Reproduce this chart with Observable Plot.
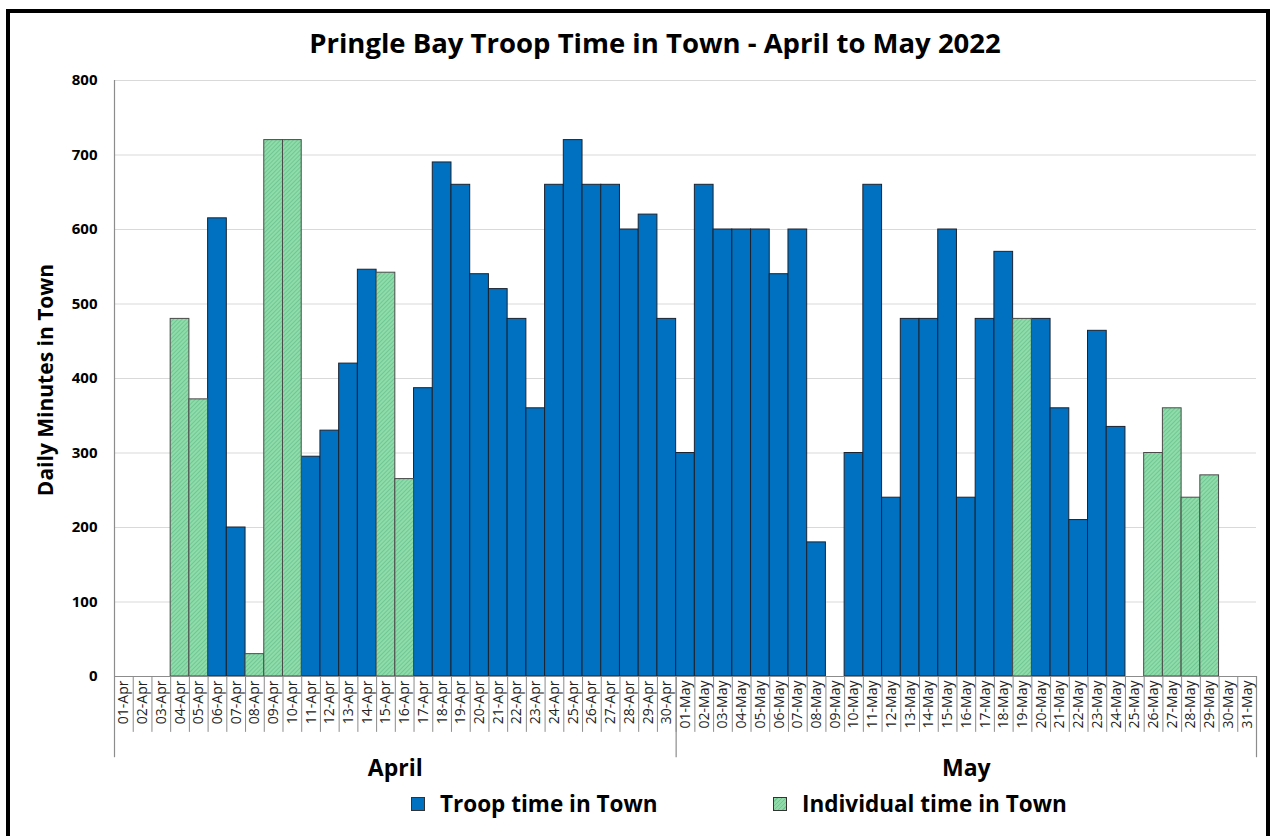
<!DOCTYPE html>
<html><head><meta charset="utf-8">
<script src="https://cdn.jsdelivr.net/npm/d3@7"></script>
<script src="https://cdn.jsdelivr.net/npm/@observablehq/plot@0.6"></script>
<style>
body{margin:0;background:#fff;overflow:hidden;font-family:"Open Sans",sans-serif;}
#wrap{position:relative;width:1272px;height:836px;overflow:hidden;}
#frame{position:absolute;left:6px;top:9px;width:1256px;height:900px;border:4px solid #000;pointer-events:none;}
#title{position:absolute;left:0;width:1310px;top:24px;text-align:center;font-weight:700;font-size:27.5px;color:#000;}
#ylab{position:absolute;left:45px;top:380px;transform:translate(-50%,-50%) rotate(-90deg);white-space:nowrap;font-weight:700;font-size:21px;color:#000;}
#legend{position:absolute;top:788px;left:0;width:1272px;font-weight:700;font-size:22.5px;color:#000;}
.li{position:absolute;display:flex;align-items:center;white-space:nowrap;}
.sw{width:14px;height:14px;margin-right:15px;border:1px solid #333;box-sizing:border-box;}
#chart{position:absolute;left:0;top:0;}
</style></head>
<body><div id="wrap">
<div id="chart"></div>
<div id="title">Pringle Bay Troop Time in Town - April to May 2022</div>
<div id="ylab">Daily Minutes in Town</div>
<div id="legend">
  <div class="li" style="left:411px"><div class="sw" style="background:#0070C0"></div>Troop time in Town</div>
  <div class="li" style="left:773px"><div class="sw" style="background:repeating-linear-gradient(135deg,#8fdcaa 0 2px,#6fc992 2px 3px)"></div>Individual time in Town</div>
</div>
<div id="frame"></div>
</div>
<script>
const dayLabels = [
 "01-Apr","02-Apr","03-Apr","04-Apr","05-Apr","06-Apr","07-Apr","08-Apr","09-Apr","10-Apr",
 "11-Apr","12-Apr","13-Apr","14-Apr","15-Apr","16-Apr","17-Apr","18-Apr","19-Apr","20-Apr",
 "21-Apr","22-Apr","23-Apr","24-Apr","25-Apr","26-Apr","27-Apr","28-Apr","29-Apr","30-Apr",
 "01-May","02-May","03-May","04-May","05-May","06-May","07-May","08-May","09-May","10-May",
 "11-May","12-May","13-May","14-May","15-May","16-May","17-May","18-May","19-May","20-May",
 "21-May","22-May","23-May","24-May","25-May","26-May","27-May","28-May","29-May","30-May","31-May"
];
const troopMinutes = [
 null,null,null,null,null,615,200,null,null,null,
 295,330,420,546,null,null,387,690,660,540,
 520,480,360,660,720,660,660,600,620,480,
 300,660,600,600,600,540,600,180,null,300,
 660,240,480,480,600,240,480,570,null,480,
 360,210,464,335,null,null,null,null,null,null,null
];
const individualMinutes = [
 null,null,null,480,372,null,null,30,720,720,
 null,null,null,null,542,265,null,null,null,null,
 null,null,null,null,null,null,null,null,null,null,
 null,null,null,null,null,null,null,null,null,null,
 null,null,null,null,null,null,null,null,480,null,
 null,null,null,null,null,300,360,240,270,null,null
];
const months = ["April","May"];
const monthStart = [0,30];
const monthEnd = [30,61];
const yTicks = [0,100,200,300,400,500,600,700,800];

const troopRows = troopMinutes.map((v,i)=>({i,v})).filter(d=>d.v!=null);
const indivRows = individualMinutes.map((v,i)=>({i,v})).filter(d=>d.v!=null);
const idx = dayLabels.map((d,i)=>i);
const boundaries = d3.range(dayLabels.length+1);
const monthRows = months.map((m,k)=>({m,a:monthStart[k],b:monthEnd[k]}));
const monthEdges = [0,30,61];

const plot = Plot.plot({
  width:1272, height:836,
  marginLeft:114, marginRight:16, marginTop:80, marginBottom:160,
  style:{fontFamily:"'Open Sans',sans-serif", background:"transparent", color:"#000"},
  x:{type:"linear", domain:[0,dayLabels.length], axis:null, label:null},
  y:{domain:[0,800], axis:null, label:null},
  marks:[
    Plot.gridY(yTicks.slice(1), {stroke:"#d9d9d9", strokeOpacity:1, strokeWidth:1.2}),
    Plot.rectY(troopRows, {x1:d=>d.i, x2:d=>d.i+1, y:"v", fill:"#0070C0", stroke:"#1c2330", strokeWidth:1, inset:0}),
    Plot.rectY(indivRows, {x1:d=>d.i, x2:d=>d.i+1, y:"v", fill:"url(#hatch)", stroke:"#4a4a4a", strokeWidth:1, inset:0}),
    Plot.ruleY([0], {stroke:"#8c8c8c", strokeWidth:1.2}),
    Plot.ruleX(boundaries, {x:d=>d, y1:0, y2:-75, stroke:"#8c8c8c", strokeWidth:1}),
    Plot.ruleX(monthEdges, {x:d=>d, y1:0, y2:-109, stroke:"#8c8c8c", strokeWidth:1.2}),
    Plot.ruleX([0], {y1:0, y2:800, stroke:"#8c8c8c", strokeWidth:1.2}),
    Plot.text(idx, {x:d=>d+0.5, y:0, text:d=>dayLabels[d], rotate:-90, textAnchor:"end", lineAnchor:"middle", dy:4, fontSize:14, fill:"#222"}),
    Plot.axisY(yTicks, {tickSize:0, tickPadding:17, fontSize:15, fontWeight:700, tickFormat:d=>String(d), label:null}),
    Plot.text(monthRows, {x:d=>(d.a+d.b)/2, y:-124, text:"m", fontSize:23, fontWeight:700, lineAnchor:"middle", fill:"#000"})
  ]
});
const svg = d3.select(plot);
const defs = svg.insert("defs",":first-child");
const pat = defs.append("pattern").attr("id","hatch").attr("patternUnits","userSpaceOnUse")
  .attr("width",3).attr("height",3).attr("patternTransform","rotate(45)");
pat.append("rect").attr("width",3).attr("height",3).attr("fill","#8fdcaa");
pat.append("rect").attr("width",1).attr("height",3).attr("fill","#6ec893");
document.getElementById("chart").appendChild(plot);
</script>
</body></html>
